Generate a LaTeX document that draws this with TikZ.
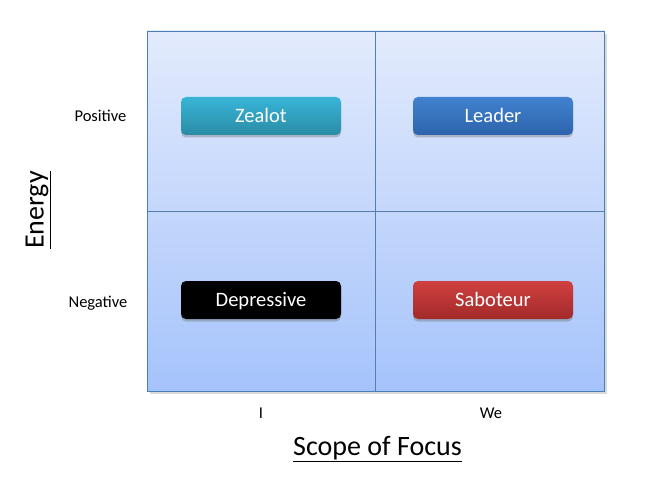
\documentclass[tikz,border=0pt]{standalone}
\usepackage{fontspec}
\setmainfont{Carlito}
\usetikzlibrary{shadows}
\definecolor{bgtop}{HTML}{E3EBFC}
\definecolor{bgbot}{HTML}{A5C3FB}
\definecolor{frame}{HTML}{4A7EBB}
\definecolor{zt}{HTML}{38B4D8}
\definecolor{zb}{HTML}{2A8CA6}
\definecolor{lt}{HTML}{4082D0}
\definecolor{lb}{HTML}{2E63AC}
\definecolor{st}{HTML}{D04040}
\definecolor{sb}{HTML}{A32A2A}
\tikzset{
  btn/.style={rounded corners=5pt, minimum width=160pt, minimum height=38pt,
    text=white, font=\fontsize{20.5}{24}\selectfont, inner sep=0pt,
    text height=16pt, text depth=2.8pt,
    drop shadow={shadow xshift=0pt, shadow yshift=-2.5pt, opacity=0.35, fill=black!60}},
  axlbl/.style={font=\fontsize{16.5}{20}\selectfont, text=black, inner sep=0pt,
    text height=13pt, text depth=2.4pt},
  bigl/.style={font=\fontsize{28}{33}\selectfont, text=black, inner sep=0pt},
}
\begin{document}
\begin{tikzpicture}[x=1pt,y=-1pt]
\useasboundingbox (0,0) rectangle (663,489);
% shadow of frame
\fill[black!15] (150,34) rectangle (607,394);
\shade[top color=bgtop, bottom color=bgbot] (147,31) rectangle (604,391);
\draw[frame, line width=0.9pt] (147,31) rectangle (604,391);
\draw[frame!80!gray, line width=0.6pt] (375.5,31) -- (375.5,391);
\draw[frame!80!gray, line width=0.6pt] (147,211) -- (604,211);
\node[btn, top color=zt, bottom color=zb] (zealot) at (261,116) {Zealot};
\node[btn, top color=lt, bottom color=lb] (leader) at (493,116) {Leader};
\node[btn, fill=black] (depr) at (261,300) {Depressive};
\node[btn, top color=st, bottom color=sb] (sabo) at (493,300) {Saboteur};
\node[axlbl] (pos) at (100.5,116) {Positive};
\node[axlbl] (neg) at (98,302) {Negative};
\node[axlbl] (ilbl) at (261,413) {I};
\node[axlbl] (we) at (491,413) {We};
\node[bigl] (scope) at (377.5,449) {\underline{Scope of Focus}};
\node[bigl, rotate=90] (energy) at (38,210) {\underline{Energy}};
\end{tikzpicture}
\end{document}
